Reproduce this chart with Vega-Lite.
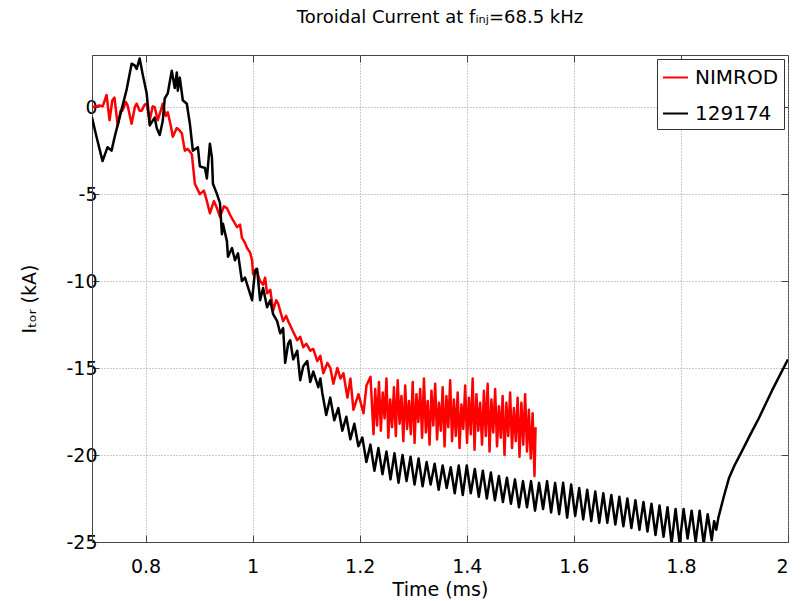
{
  "$schema": "https://vega.github.io/schema/vega-lite/v6.json",
  "width": 696,
  "height": 487,
  "autosize": "none",
  "padding": {"left": 92, "top": 55, "right": 14, "bottom": 59},
  "background": "white",
  "config": {
    "font": "DejaVu Sans",
    "view": {"stroke": "#444", "strokeWidth": 1},
    "axis": {
      "labelFont": "DejaVu Sans", "labelFontSize": 19, "labelColor": "#000",
      "titleFont": "DejaVu Sans", "titleFontSize": 19, "titleFontWeight": "normal", "titleColor": "#000",
      "domainColor": "#444", "tickColor": "#444", "tickSize": -7, "tickWidth": 1,
      "gridColor": "#999", "gridDash": [1, 2], "gridWidth": 1
    }
  },
  "title": {
    "text": "Toroidal Current at fᵢₙⱼ=68.5 kHz",
    "font": "DejaVu Sans", "fontSize": 18, "fontWeight": "normal", "color": "#000",
    "anchor": "middle", "frame": "group", "baseline": "alphabetic", "offset": 14
  },
  "datasets": {
    "nimrod": [
      {"t":0.700,"v":0},{"t":0.714,"v":0.1},{"t":0.720,"v":0.05},{"t":0.7272,"v":0.7},{"t":0.7328,"v":-0.75},{"t":0.738,"v":0.4},{"t":0.742,"v":0.55},{"t":0.748,"v":-1.05},{"t":0.7534,"v":-0.2},{"t":0.757,"v":-0.2},{"t":0.763,"v":0.3},{"t":0.7665,"v":0.1},{"t":0.774,"v":-0.95},{"t":0.780,"v":0},{"t":0.7834,"v":0.2},{"t":0.789,"v":-0.2},{"t":0.7928,"v":-0.2},{"t":0.7984,"v":0.15},{"t":0.802,"v":0.2},{"t":0.8078,"v":-0.75},{"t":0.8134,"v":0.05},{"t":0.8171,"v":0},{"t":0.8228,"v":-0.75},{"t":0.8284,"v":-0.2},{"t":0.8321,"v":0.2},{"t":0.8378,"v":-0.5},{"t":0.8415,"v":-0.3},{"t":0.8471,"v":-1.05},{"t":0.8509,"v":-1.7},{"t":0.8584,"v":-1.2},{"t":0.864,"v":-1.35},{"t":0.8678,"v":-1.5},{"t":0.8734,"v":-2.5},{"t":0.879,"v":-2.4},{"t":0.8865,"v":-2.7},{"t":0.8921,"v":-4.4},{"t":0.9015,"v":-5.0},{"t":0.909,"v":-4.8},{"t":0.9146,"v":-5.4},{"t":0.9202,"v":-6.1},{"t":0.9277,"v":-5.4},{"t":0.9334,"v":-5.8},{"t":0.939,"v":-6.3},{"t":0.9465,"v":-5.7},{"t":0.952,"v":-5.8},{"t":0.958,"v":-6.2},{"t":0.9634,"v":-6.5},{"t":0.971,"v":-6.9},{"t":0.9765,"v":-6.75},{"t":0.980,"v":-7.5},{"t":0.9858,"v":-7.8},{"t":0.9896,"v":-8.1},{"t":0.9952,"v":-8.35},{"t":0.999,"v":-8.8},{"t":1.0008,"v":-9.6},{"t":1.0064,"v":-9.3},{"t":1.014,"v":-10.0},{"t":1.0196,"v":-10.2},{"t":1.0233,"v":-9.8},{"t":1.027,"v":-10.7},{"t":1.033,"v":-10.5},{"t":1.0383,"v":-11.7},{"t":1.044,"v":-11.1},{"t":1.0477,"v":-11.3},{"t":1.057,"v":-12.3},{"t":1.0627,"v":-12.0},{"t":1.0664,"v":-12.3},{"t":1.074,"v":-12.8},{"t":1.0833,"v":-13.4},{"t":1.0889,"v":-13.2},{"t":1.0946,"v":-13.8},{"t":1.1002,"v":-13.6},{"t":1.1077,"v":-14.0},{"t":1.1133,"v":-13.9},{"t":1.1208,"v":-14.6},{"t":1.1265,"v":-14.3},{"t":1.1321,"v":-15.3},{"t":1.1396,"v":-14.7},{"t":1.1452,"v":-15.0},{"t":1.1508,"v":-15.9},{"t":1.1583,"v":-15.0},{"t":1.164,"v":-15.6},{"t":1.1696,"v":-15.3},{"t":1.1771,"v":-16.7},{"t":1.1827,"v":-15.6},{"t":1.1883,"v":-17.4},{"t":1.1977,"v":-16.5},{"t":1.2071,"v":-17.6},{"t":1.2127,"v":-16.0},{"t":1.2202,"v":-15.5},{"t":1.2258,"v":-18.8},
      {"t":1.2290,"v":-16.2},{"t":1.2325,"v":-18.3},{"t":1.2360,"v":-15.8},{"t":1.2395,"v":-18.6},{"t":1.2430,"v":-16.4},{"t":1.2465,"v":-17.9},{"t":1.2500,"v":-15.6},{"t":1.2535,"v":-19.0},{"t":1.2570,"v":-16.8},{"t":1.2605,"v":-18.4},{"t":1.2640,"v":-16.1},{"t":1.2675,"v":-18.9},{"t":1.2710,"v":-15.7},{"t":1.2745,"v":-18.2},{"t":1.2780,"v":-16.6},{"t":1.2815,"v":-19.2},{"t":1.2850,"v":-16.0},{"t":1.2885,"v":-18.5},{"t":1.2920,"v":-16.9},{"t":1.2955,"v":-18.8},{"t":1.2990,"v":-15.8},{"t":1.3025,"v":-19.3},{"t":1.3060,"v":-16.5},{"t":1.3095,"v":-18.1},{"t":1.3130,"v":-16.2},{"t":1.3165,"v":-19.0},{"t":1.3200,"v":-15.6},{"t":1.3235,"v":-18.7},{"t":1.3270,"v":-16.9},{"t":1.3305,"v":-19.4},{"t":1.3340,"v":-16.3},{"t":1.3375,"v":-18.3},{"t":1.3410,"v":-15.9},{"t":1.3445,"v":-19.1},{"t":1.3480,"v":-17.0},{"t":1.3515,"v":-18.6},{"t":1.3550,"v":-16.1},{"t":1.3585,"v":-19.5},{"t":1.3620,"v":-16.6},{"t":1.3655,"v":-18.4},{"t":1.3690,"v":-15.7},{"t":1.3725,"v":-19.2},{"t":1.3760,"v":-16.8},{"t":1.3795,"v":-18.9},{"t":1.3830,"v":-16.4},{"t":1.3865,"v":-19.6},{"t":1.3900,"v":-17.1},{"t":1.3935,"v":-18.5},{"t":1.3970,"v":-16.0},{"t":1.4005,"v":-19.3},{"t":1.4040,"v":-16.7},{"t":1.4075,"v":-18.8},{"t":1.4110,"v":-15.6},{"t":1.4145,"v":-19.7},{"t":1.4180,"v":-16.5},{"t":1.4215,"v":-18.6},{"t":1.4250,"v":-17.0},{"t":1.4285,"v":-19.4},{"t":1.4320,"v":-16.3},{"t":1.4355,"v":-18.9},{"t":1.4390,"v":-15.9},{"t":1.4425,"v":-19.8},{"t":1.4460,"v":-16.8},{"t":1.4495,"v":-18.7},{"t":1.4530,"v":-16.2},{"t":1.4565,"v":-19.5},{"t":1.4600,"v":-17.2},{"t":1.4635,"v":-19.0},{"t":1.4670,"v":-16.6},{"t":1.4705,"v":-20.0},{"t":1.4740,"v":-17.0},{"t":1.4775,"v":-18.9},{"t":1.4810,"v":-16.4},{"t":1.4845,"v":-19.6},{"t":1.4880,"v":-17.3},{"t":1.4915,"v":-19.2},{"t":1.4950,"v":-16.7},{"t":1.4985,"v":-20.1},{"t":1.5020,"v":-17.0},{"t":1.5055,"v":-19.4},{"t":1.5090,"v":-16.5},{"t":1.5125,"v":-19.8},{"t":1.5160,"v":-17.4},{"t":1.5195,"v":-20.2},{"t":1.5230,"v":-17.6},{"t":1.5265,"v":-21.2},{"t":1.5285,"v":-18.4}
    ],
    "exp": [
      {"t":0.700,"v":-0.6},{"t":0.7084,"v":-1.7},{"t":0.7197,"v":-3.1},{"t":0.729,"v":-2.3},{"t":0.7365,"v":-2.5},{"t":0.742,"v":-1.75},{"t":0.7515,"v":-0.6},{"t":0.7646,"v":1.0},{"t":0.774,"v":2.5},{"t":0.7797,"v":2.4},{"t":0.7834,"v":2.2},{"t":0.789,"v":2.8},{"t":0.7946,"v":1.9},{"t":0.8021,"v":0.8},{"t":0.8078,"v":-1.05},{"t":0.8171,"v":-0.6},{"t":0.8209,"v":-1.2},{"t":0.8265,"v":-1.6},{"t":0.8321,"v":-0.8},{"t":0.8359,"v":0.5},{"t":0.8415,"v":0.8},{"t":0.849,"v":2.1},{"t":0.8546,"v":1.1},{"t":0.8584,"v":2.0},{"t":0.8603,"v":0.95},{"t":0.864,"v":1.7},{"t":0.8696,"v":0.4},{"t":0.8771,"v":0.2},{"t":0.8828,"v":-0.95},{"t":0.8884,"v":-2.5},{"t":0.8978,"v":-2.3},{"t":0.9015,"v":-3.4},{"t":0.9109,"v":-3.5},{"t":0.9146,"v":-4.1},{"t":0.9202,"v":-2.1},{"t":0.924,"v":-2.9},{"t":0.9259,"v":-4.4},{"t":0.9334,"v":-5.0},{"t":0.939,"v":-5.5},{"t":0.9427,"v":-7.3},{"t":0.9446,"v":-6.7},{"t":0.952,"v":-7.7},{"t":0.954,"v":-8.6},{"t":0.9615,"v":-8.1},{"t":0.967,"v":-8.8},{"t":0.9727,"v":-8.4},{"t":0.980,"v":-10.0},{"t":0.9858,"v":-9.8},{"t":0.999,"v":-11.1},{"t":1.0045,"v":-9.4},{"t":1.0083,"v":-9.3},{"t":1.014,"v":-11.1},{"t":1.0196,"v":-10.4},{"t":1.027,"v":-11.5},{"t":1.033,"v":-11.1},{"t":1.0383,"v":-11.9},{"t":1.0458,"v":-12.3},{"t":1.0515,"v":-13.0},{"t":1.057,"v":-12.7},{"t":1.0608,"v":-14.7},{"t":1.0664,"v":-13.6},{"t":1.0702,"v":-13.4},{"t":1.0758,"v":-14.5},{"t":1.0833,"v":-14.0},{"t":1.0889,"v":-15.7},{"t":1.0946,"v":-14.9},{"t":1.102,"v":-14.6},{"t":1.1077,"v":-15.8},{"t":1.1133,"v":-15.2},{"t":1.1227,"v":-16.1},{"t":1.1265,"v":-15.6},
      {"t":1.130,"v":-16.4},{"t":1.1375,"v":-17.7},{"t":1.145,"v":-16.7},{"t":1.1525,"v":-18.0},{"t":1.160,"v":-17.3},{"t":1.1675,"v":-18.6},{"t":1.175,"v":-17.8},{"t":1.1825,"v":-19.1},{"t":1.190,"v":-18.2},{"t":1.1975,"v":-19.5},{"t":1.205,"v":-19.0},{"t":1.2125,"v":-20.4},{"t":1.220,"v":-19.4},{"t":1.2275,"v":-20.9},{"t":1.235,"v":-19.6},{"t":1.2425,"v":-21.1},{"t":1.250,"v":-19.8},{"t":1.2575,"v":-21.4},{"t":1.265,"v":-19.9},{"t":1.2725,"v":-21.6},{"t":1.280,"v":-20.0},{"t":1.2875,"v":-21.5},{"t":1.295,"v":-20.1},{"t":1.3025,"v":-21.7},{"t":1.310,"v":-20.2},{"t":1.3175,"v":-21.8},{"t":1.325,"v":-20.4},{"t":1.3325,"v":-21.7},{"t":1.340,"v":-20.5},{"t":1.3475,"v":-22.0},{"t":1.355,"v":-20.6},{"t":1.3625,"v":-21.9},{"t":1.370,"v":-20.7},{"t":1.3775,"v":-22.2},{"t":1.385,"v":-20.6},{"t":1.3925,"v":-22.3},{"t":1.400,"v":-20.6},{"t":1.4075,"v":-22.2},{"t":1.415,"v":-20.8},{"t":1.4225,"v":-22.4},{"t":1.430,"v":-20.9},{"t":1.4375,"v":-22.5},{"t":1.445,"v":-21.0},{"t":1.4525,"v":-22.6},{"t":1.460,"v":-21.2},{"t":1.4675,"v":-22.7},{"t":1.475,"v":-21.3},{"t":1.4825,"v":-22.8},{"t":1.490,"v":-21.4},{"t":1.4975,"v":-23.0},{"t":1.505,"v":-21.5},{"t":1.5125,"v":-23.0},{"t":1.520,"v":-21.5},{"t":1.5275,"v":-23.2},{"t":1.535,"v":-21.6},{"t":1.5425,"v":-23.1},{"t":1.550,"v":-21.5},{"t":1.5575,"v":-23.3},{"t":1.565,"v":-21.6},{"t":1.5725,"v":-23.4},{"t":1.580,"v":-21.6},{"t":1.5875,"v":-23.6},{"t":1.595,"v":-21.7},{"t":1.6025,"v":-23.5},{"t":1.610,"v":-21.9},{"t":1.6175,"v":-23.7},{"t":1.625,"v":-22.0},{"t":1.6325,"v":-23.8},{"t":1.640,"v":-22.1},{"t":1.6475,"v":-23.9},{"t":1.655,"v":-22.2},{"t":1.6625,"v":-23.9},{"t":1.670,"v":-22.3},{"t":1.6775,"v":-24.0},{"t":1.685,"v":-22.4},{"t":1.6925,"v":-24.1},{"t":1.700,"v":-22.5},{"t":1.7075,"v":-24.2},{"t":1.715,"v":-22.6},{"t":1.7225,"v":-24.3},{"t":1.730,"v":-22.7},{"t":1.7375,"v":-24.4},{"t":1.745,"v":-22.8},{"t":1.7525,"v":-24.6},{"t":1.760,"v":-22.9},{"t":1.7675,"v":-24.7},{"t":1.775,"v":-23.0},{"t":1.7825,"v":-25.1},{"t":1.790,"v":-23.1},{"t":1.7975,"v":-25.1},{"t":1.805,"v":-23.1},{"t":1.8125,"v":-24.8},{"t":1.820,"v":-23.2},{"t":1.8275,"v":-25.0},{"t":1.835,"v":-23.2},{"t":1.8425,"v":-25.1},{"t":1.850,"v":-23.4},{"t":1.8575,"v":-24.9},
      {"t":1.862,"v":-23.8},{"t":1.866,"v":-24.3},{"t":1.870,"v":-23.6},{"t":1.880,"v":-22.4},{"t":1.890,"v":-21.3},{"t":1.900,"v":-20.6},{"t":1.9135,"v":-19.8},{"t":1.930,"v":-18.8},{"t":1.9453,"v":-17.9},{"t":1.970,"v":-16.3},{"t":2.000,"v":-14.5}
    ]
  },
  "layer": [
    {
      "data": {"name": "nimrod"},
      "mark": {"type": "line", "strokeWidth": 2.5, "strokeJoin": "round", "clip": true},
      "encoding": {
        "x": {"field": "t", "type": "quantitative",
          "scale": {"domain": [0.7, 2], "nice": false, "zero": false},
          "axis": {"orient": "bottom", "values": [0.8, 1, 1.2, 1.4, 1.6, 1.8, 2], "labelExpr": "'' + datum.value",
            "grid": true, "title": "Time (ms)", "labelPadding": 22, "titlePadding": 4}},
        "y": {"field": "v", "type": "quantitative",
          "scale": {"domain": [-25, 3], "nice": false, "zero": false},
          "axis": {"orient": "left", "values": [-25, -20, -15, -10, -5, 0], "labelExpr": "'' + datum.value",
            "grid": true, "title": "Iₜₒᵣ (kA)", "labelPadding": 2, "titlePadding": 26}},
        "color": {"datum": "NIMROD", "type": "nominal",
          "scale": {"domain": ["NIMROD", "129174"], "range": ["#ff0000", "#000000"]},
          "legend": {"orient": "top-right", "offset": 4, "title": null, "symbolType": "stroke", "symbolSize": 625,
            "symbolStrokeWidth": 2, "labelFontSize": 20, "labelFont": "DejaVu Sans", "labelColor": "#000",
            "strokeColor": "#333", "fillColor": "white", "padding": 5, "rowPadding": 12, "labelOffset": 6}}
      }
    },
    {
      "data": {"name": "exp"},
      "mark": {"type": "line", "strokeWidth": 2.5, "strokeJoin": "round", "clip": true},
      "encoding": {
        "x": {"field": "t", "type": "quantitative",
          "scale": {"domain": [0.7, 2], "nice": false, "zero": false},
          "axis": {"orient": "top", "values": [0.8, 1, 1.2, 1.4, 1.6, 1.8, 2], "labels": false, "domain": false, "grid": false, "title": null}},
        "y": {"field": "v", "type": "quantitative",
          "scale": {"domain": [-25, 3], "nice": false, "zero": false},
          "axis": {"orient": "right", "values": [-25, -20, -15, -10, -5, 0], "labels": false, "domain": false, "grid": false, "title": null}},
        "color": {"datum": "129174", "type": "nominal"}
      }
    }
  ],
  "resolve": {"axis": {"x": "independent", "y": "independent"}}
}
